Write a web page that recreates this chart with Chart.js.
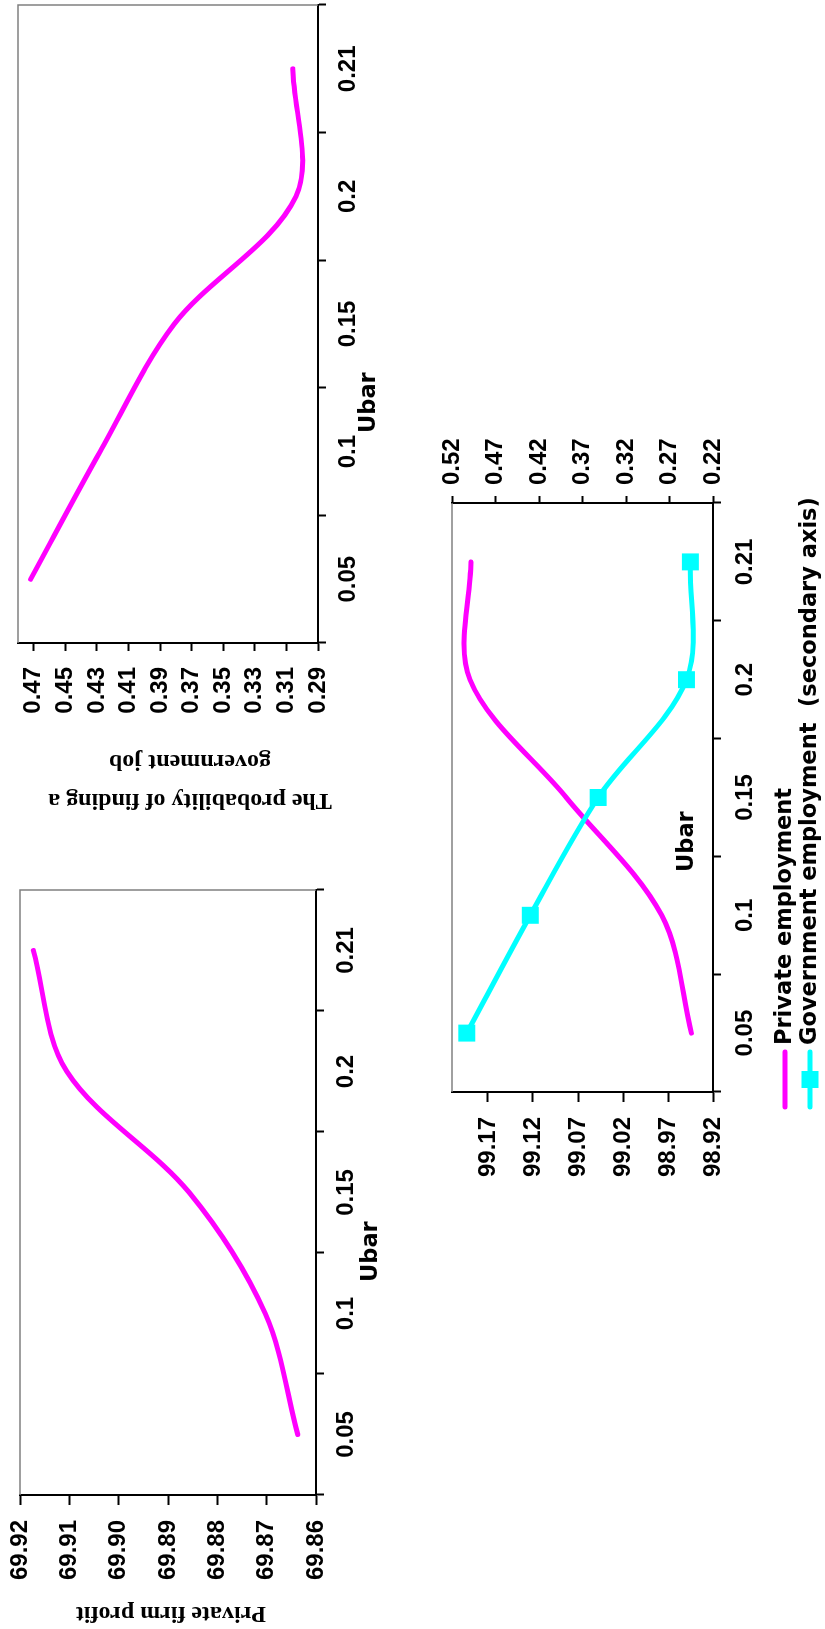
<!DOCTYPE html>
<html>
<head>
<meta charset="utf-8">
<script src="https://cdn.jsdelivr.net/npm/chart.js@4.4.0/dist/chart.umd.min.js"></script>
<style>
  html, body { margin: 0; padding: 0; background: #fff; overflow: hidden; }
  /* the whole sheet is laid out landscape and turned a quarter left */
  #page { position: absolute; left: 0; top: 0; width: 1629px; height: 825px;
          transform-origin: 0 0; transform: translateY(1629px) rotate(-90deg); }
  .box { position: absolute; }
</style>
</head>
<body>
<div id="page">
  <div class="box" style="left:0;top:0"><canvas id="profitChart" width="780" height="420"></canvas></div>
  <div class="box" style="left:780px;top:0"><canvas id="probChart" width="849" height="420"></canvas></div>
  <div class="box" style="left:400px;top:420px"><canvas id="empChart" width="900" height="405"></canvas></div>
</div>
<script>
// data
const ubarLabels = ['0.05', '0.1', '0.15', '0.2', '0.21'];
const probGovJob = [0.472, 0.428, 0.381, 0.304, 0.306];
const firmProfit = [69.8637, 69.8703, 69.8857, 69.9105, 69.9173];
const privateEmployment = [98.944, 98.977, 99.083, 99.190, 99.189];
const govEmployment = [0.503, 0.430, 0.352, 0.2505, 0.246];

const probTicks = [0.29, 0.31, 0.33, 0.35, 0.37, 0.39, 0.41, 0.43, 0.45, 0.47];
const profitTicks = [69.86, 69.87, 69.88, 69.89, 69.90, 69.91, 69.92];
const privTicks = [98.92, 98.97, 99.02, 99.07, 99.12, 99.17];
const govTicks = [0.22, 0.27, 0.32, 0.37, 0.42, 0.47, 0.52];

const MAGENTA = '#ff00ff';
const CYAN = '#00ffff';
const tickFont = { family: "'Liberation Sans', Arial, sans-serif", size: 24, weight: 'bold', lineHeight: 1 };
const serifTitle = 'bold 24px "Liberation Serif", "Times New Roman", serif';
const sansLabel = 'bold 22.5px "DejaVu Sans", Verdana, sans-serif';

Chart.defaults.font.family = "'Liberation Sans', Arial, sans-serif";

// keep the plot boxes where the axes say, no extra label padding
function noPad(s) { s.paddingTop = s.paddingBottom = s.paddingLeft = s.paddingRight = 0; }

function ubarAxis(labelPad) {
    return {
        type: 'category', position: 'bottom', offset: true,
        afterFit: s => { s.height = 60; noPad(s); },
        ticks: { autoSkip: false, maxRotation: 0, minRotation: 0, color: '#000', font: tickFont, padding: labelPad },
        grid: { offset: true, drawOnChartArea: false, tickLength: 8, tickWidth: 2, tickColor: '#000' },
        border: { color: '#000', width: 2 }
    };
}

function valueAxis(o) {
    return {
        type: 'linear', position: o.position, min: o.min, max: o.max,
        afterBuildTicks: s => { s.ticks = o.ticks.map(v => ({ value: v })); },
        afterFit: s => { s.width = o.width; noPad(s); },
        ticks: { autoSkip: false, color: '#000', font: tickFont, padding: o.pad,
                 callback: v => Number(v).toFixed(o.digits) },
        grid: { drawOnChartArea: false, tickLength: o.tick, tickWidth: 2, tickColor: '#000' },
        border: { color: '#000', width: 2 }
    };
}

function curve(label, data, color, extra) {
    return Object.assign({
        label, data, borderColor: color, backgroundColor: color, borderWidth: 5,
        pointRadius: 0, tension: 0.33, borderCapStyle: 'round', borderJoinStyle: 'round', fill: false
    }, extra || {});
}

// grey plot frame on the sides without an axis
const framePlugin = {
    id: 'frame',
    beforeDatasetsDraw(chart, args, opts) {
        const { ctx, chartArea: a } = chart;
        ctx.save();
        ctx.strokeStyle = '#808080';
        ctx.lineWidth = 1.5;
        ctx.beginPath();
        ctx.moveTo(a.left, a.top);
        ctx.lineTo(a.right, a.top);
        if (opts.right) ctx.lineTo(a.right, a.bottom);
        ctx.stroke();
        ctx.restore();
    }
};

// axis titles, placed like the Excel sheet has them
const notesPlugin = {
    id: 'notes',
    afterDraw(chart, args, opts) {
        const ctx = chart.ctx;
        (opts.items || []).forEach(t => {
            ctx.save();
            ctx.font = t.font;
            ctx.fillStyle = '#000';
            ctx.textAlign = t.align || 'left';
            ctx.textBaseline = 'alphabetic';
            ctx.translate(t.x, t.y);
            if (t.rotate) ctx.rotate(t.rotate);
            ctx.fillText(t.text, 0, 0);
            ctx.restore();
        });
    }
};

// legend with a line sample (and marker) per series
const sheetLegend = {
    id: 'sheetLegend',
    afterDraw(chart, args, opts) {
        if (!opts.show) return;
        const ctx = chart.ctx;
        ctx.save();
        ctx.font = opts.font;
        chart.data.datasets.forEach((ds, i) => {
            const y = opts.y + i * opts.rowGap;
            ctx.strokeStyle = ds.borderColor;
            ctx.lineWidth = 5;
            ctx.lineCap = 'round';
            ctx.beginPath();
            ctx.moveTo(opts.x, y);
            ctx.lineTo(opts.x + opts.lineLen, y);
            ctx.stroke();
            if (ds.pointStyle === 'rect') {
                ctx.fillStyle = ds.borderColor;
                ctx.fillRect(opts.x + opts.lineLen / 2 - 8.5, y - 8.5, 17, 17);
            }
            ctx.fillStyle = '#000';
            ctx.textBaseline = 'alphabetic';
            ctx.fillText(ds.label, opts.x + opts.lineLen + opts.gap, y + opts.baseShift);
        });
        ctx.restore();
    }
};

const basePlugins = { legend: { display: false }, tooltip: { enabled: false } };

// 1. Probability of finding a government job
new Chart(document.getElementById('probChart'), {
    type: 'line',
    data: { labels: ubarLabels, datasets: [curve('Probability', probGovJob, MAGENTA)] },
    options: {
        responsive: false, animation: false,
        layout: { padding: { left: 0, right: 5, top: 18, bottom: 42 } },
        plugins: Object.assign({}, basePlugins, {
            frame: { right: true },
            notes: { items: [
                { text: 'The probability of finding a', font: serifTitle, x: 55, y: 190, rotate: -Math.PI / 2, align: 'center' },
                { text: 'government job', font: serifTitle, x: 93.5, y: 190, rotate: -Math.PI / 2, align: 'center' },
                { text: 'Ubar', font: sansLabel, x: 416, y: 375 }
            ] }
        }),
        scales: {
            x: ubarAxis(10),
            y: valueAxis({ position: 'left', min: 0.29, max: 0.48, ticks: probTicks, digits: 2, width: 206, pad: 16, tick: 8 })
        }
    },
    plugins: [framePlugin, notesPlugin]
});

// 2. Private firm profit
new Chart(document.getElementById('profitChart'), {
    type: 'line',
    data: { labels: ubarLabels, datasets: [curve('Private firm profit', firmProfit, MAGENTA)] },
    options: {
        responsive: false, animation: false,
        layout: { padding: { left: 0, right: 41, top: 20, bottom: 44 } },
        plugins: Object.assign({}, basePlugins, {
            frame: { right: true },
            notes: { items: [
                { text: 'Private firm profit', font: serifTitle, x: 21.5, y: 171, rotate: -Math.PI / 2, align: 'center' },
                { text: 'Ubar', font: sansLabel, x: 347, y: 377 }
            ] }
        }),
        scales: {
            x: ubarAxis(10),
            y: valueAxis({ position: 'left', min: 69.86, max: 69.92, ticks: profitTicks, digits: 2, width: 134, pad: 15, tick: 10 })
        }
    },
    plugins: [framePlugin, notesPlugin]
});

// 3. Private vs government employment
new Chart(document.getElementById('empChart'), {
    type: 'line',
    data: {
        labels: ubarLabels,
        datasets: [
            curve('Private employment', privateEmployment, MAGENTA, { yAxisID: 'y', order: 2 }),
            curve('Government employment  (secondary axis)', govEmployment, CYAN, {
                yAxisID: 'y2', order: 1, pointStyle: 'rect', pointRadius: 12,
                pointBackgroundColor: CYAN, pointBorderWidth: 0
            })
        ]
    },
    options: {
        responsive: false, animation: false,
        layout: { padding: { left: 0, right: 74, top: 32, bottom: 52 } },
        plugins: Object.assign({}, basePlugins, {
            frame: { right: false },
            notes: { items: [ { text: 'Ubar', font: sansLabel, x: 357, y: 273 } ] },
            sheetLegend: { show: true, font: sansLabel, x: 122, y: 365, lineLen: 55, gap: 7, rowGap: 25, baseShift: 6.4 }
        }),
        scales: {
            x: ubarAxis(12),
            y: valueAxis({ position: 'left', min: 98.92, max: 99.21, ticks: privTicks, digits: 2, width: 137, pad: 15, tick: 10 }),
            y2: valueAxis({ position: 'right', min: 0.22, max: 0.52, ticks: govTicks, digits: 2, width: 100, pad: 11, tick: 7 })
        }
    },
    plugins: [framePlugin, notesPlugin, sheetLegend]
});
</script>
</body>
</html>
